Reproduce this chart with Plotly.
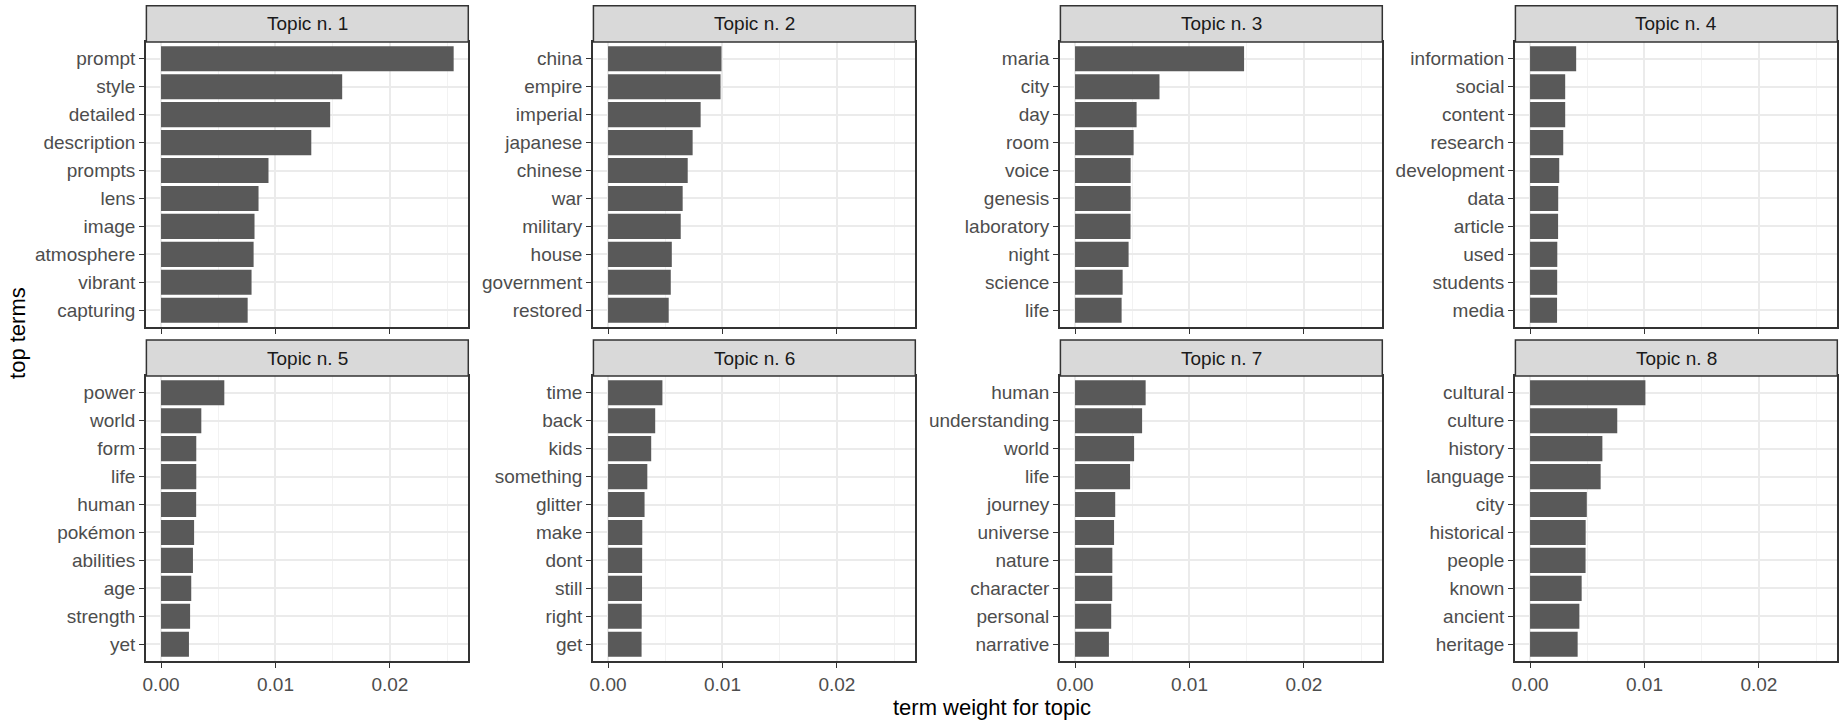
import plotly.graph_objects as go

W, H = 1845, 720

topic_titles = ["Topic n. 1", "Topic n. 2", "Topic n. 3", "Topic n. 4",
                "Topic n. 5", "Topic n. 6", "Topic n. 7", "Topic n. 8"]

terms_1 = ["prompt", "style", "detailed", "description", "prompts", "lens", "image", "atmosphere", "vibrant", "capturing"]
values_1 = [0.02557, 0.01583, 0.01478, 0.01313, 0.00939, 0.00852, 0.00817, 0.00809, 0.00791, 0.00757]

terms_2 = ["china", "empire", "imperial", "japanese", "chinese", "war", "military", "house", "government", "restored"]
values_2 = [0.00991, 0.00983, 0.00809, 0.00739, 0.00696, 0.00652, 0.00635, 0.00557, 0.00548, 0.00530]

terms_3 = ["maria", "city", "day", "room", "voice", "genesis", "laboratory", "night", "science", "life"]
values_3 = [0.01477, 0.00738, 0.00538, 0.00512, 0.00486, 0.00486, 0.00485, 0.00468, 0.00416, 0.00407]

terms_4 = ["information", "social", "content", "research", "development", "data", "article", "used", "students", "media"]
values_4 = [0.00403, 0.00307, 0.00307, 0.00290, 0.00255, 0.00246, 0.00245, 0.00238, 0.00237, 0.00236]

terms_5 = ["power", "world", "form", "life", "human", "pokémon", "abilities", "age", "strength", "yet"]
values_5 = [0.00553, 0.00352, 0.00308, 0.00308, 0.00307, 0.00289, 0.00279, 0.00264, 0.00254, 0.00244]

terms_6 = ["time", "back", "kids", "something", "glitter", "make", "dont", "still", "right", "get"]
values_6 = [0.00475, 0.00412, 0.00377, 0.00343, 0.00319, 0.00299, 0.00298, 0.00297, 0.00294, 0.00293]

terms_7 = ["human", "understanding", "world", "life", "journey", "universe", "nature", "character", "personal", "narrative"]
values_7 = [0.00617, 0.00586, 0.00516, 0.00481, 0.00351, 0.00341, 0.00326, 0.00325, 0.00316, 0.00296]

terms_8 = ["cultural", "culture", "history", "language", "city", "historical", "people", "known", "ancient", "heritage"]
values_8 = [0.01008, 0.00762, 0.00632, 0.00617, 0.00496, 0.00486, 0.00485, 0.00451, 0.00431, 0.00416]

x_tickvals = [0.0, 0.01, 0.02]
x_ticktext = ["0.00", "0.01", "0.02"]

all_terms = [terms_1, terms_2, terms_3, terms_4, terms_5, terms_6, terms_7, terms_8]
all_values = [values_1, values_2, values_3, values_4, values_5, values_6, values_7, values_8]

# layout geometry (pixels)
col_left = [142.7, 590.7, 1058.7, 1514.7]
panel_w = 322.6
rows = [dict(strip_top=5.7, top=42.0, bottom=327.0),
        dict(strip_top=340.0, top=376.0, bottom=661.0)]

vmax = max(max(v) for v in all_values)
pad = vmax * 0.05
x_range = [-pad, vmax + pad]

FONT = "Liberation Sans, Arial, Helvetica, sans-serif"
TICK_SIZE = 19
fig = go.Figure()
shapes = []
annotations = []

for i in range(8):
    r, c = divmod(i, 4)
    terms = all_terms[i]
    vals = all_values[i]
    ax = "" if i == 0 else str(i + 1)
    fig.add_trace(go.Bar(
        x=vals, y=terms, orientation="h", width=0.9,
        marker=dict(color="#595959", line=dict(width=0)),
        xaxis="x" + ax, yaxis="y" + ax, showlegend=False,
        hoverinfo="x+y",
    ))
    x0 = col_left[c] / W
    x1 = (col_left[c] + panel_w) / W
    y0 = 1 - rows[r]["bottom"] / H
    y1 = 1 - rows[r]["top"] / H
    fig.layout["xaxis" + ax] = dict(
        domain=[x0, x1], anchor="y" + ax, range=x_range,
        tickvals=x_tickvals, ticktext=x_ticktext,
        showticklabels=(r == 1),
        ticks="outside", ticklen=5.5, tickwidth=1.3, tickcolor="#333333",
        tickfont=dict(family=FONT, size=TICK_SIZE, color="#4D4D4D"),
        showgrid=True, gridcolor="#EBEBEB", gridwidth=1.6,
        minor=dict(tickvals=[0.005, 0.015, 0.025], showgrid=True,
                   gridcolor="#F2F2F2", gridwidth=1.0, ticks=""),
        zeroline=False, showline=True, linecolor="#333333", linewidth=1.5,
        mirror=True, fixedrange=True,
    )
    fig.layout["yaxis" + ax] = dict(
        domain=[y0, y1], anchor="x" + ax,
        type="category", categoryorder="array", categoryarray=terms[::-1],
        range=[-0.6, len(terms) - 0.4],
        ticks="outside", ticklen=5.5, tickwidth=1.3, tickcolor="#333333",
        tickfont=dict(family=FONT, size=TICK_SIZE, color="#4D4D4D"),
        showgrid=True, gridcolor="#EBEBEB", gridwidth=1.6,
        zeroline=False, showline=True, linecolor="#333333", linewidth=1.5,
        mirror=True, fixedrange=True,
    )
    # strip
    sy0 = 1 - rows[r]["top"] / H
    sy1 = 1 - rows[r]["strip_top"] / H
    shapes.append(dict(type="rect", xref="paper", yref="paper",
                       x0=x0, x1=x1, y0=sy0, y1=sy1,
                       fillcolor="#D9D9D9", line=dict(color="#333333", width=1.5),
                       layer="above"))
    annotations.append(dict(text=topic_titles[i], xref="paper", yref="paper",
                            x=(x0 + x1) / 2, y=(sy0 + sy1) / 2,
                            xanchor="center", yanchor="middle", showarrow=False,
                            font=dict(family=FONT, size=19, color="#1A1A1A")))

annotations.append(dict(text="term weight for topic", xref="paper", yref="paper",
                        x=990 / W, y=1 - 707 / H, xanchor="center", yanchor="middle",
                        showarrow=False, font=dict(family=FONT, size=22, color="#000000")))
annotations.append(dict(text="top terms", xref="paper", yref="paper",
                        x=13 / W, y=1 - 333 / H, xanchor="center", yanchor="middle",
                        textangle=-90, showarrow=False,
                        font=dict(family=FONT, size=22, color="#000000")))

fig.update_layout(
    width=W, height=H,
    margin=dict(l=0, r=0, t=0, b=0),
    paper_bgcolor="white", plot_bgcolor="white",
    shapes=shapes, annotations=annotations,
    bargap=0.1,
)

fig.write_html("out.html",
               config={"displayModeBar": False},
               post_script="document.body.style.margin='0';document.body.style.padding='0';document.body.style.overflow='hidden';")
